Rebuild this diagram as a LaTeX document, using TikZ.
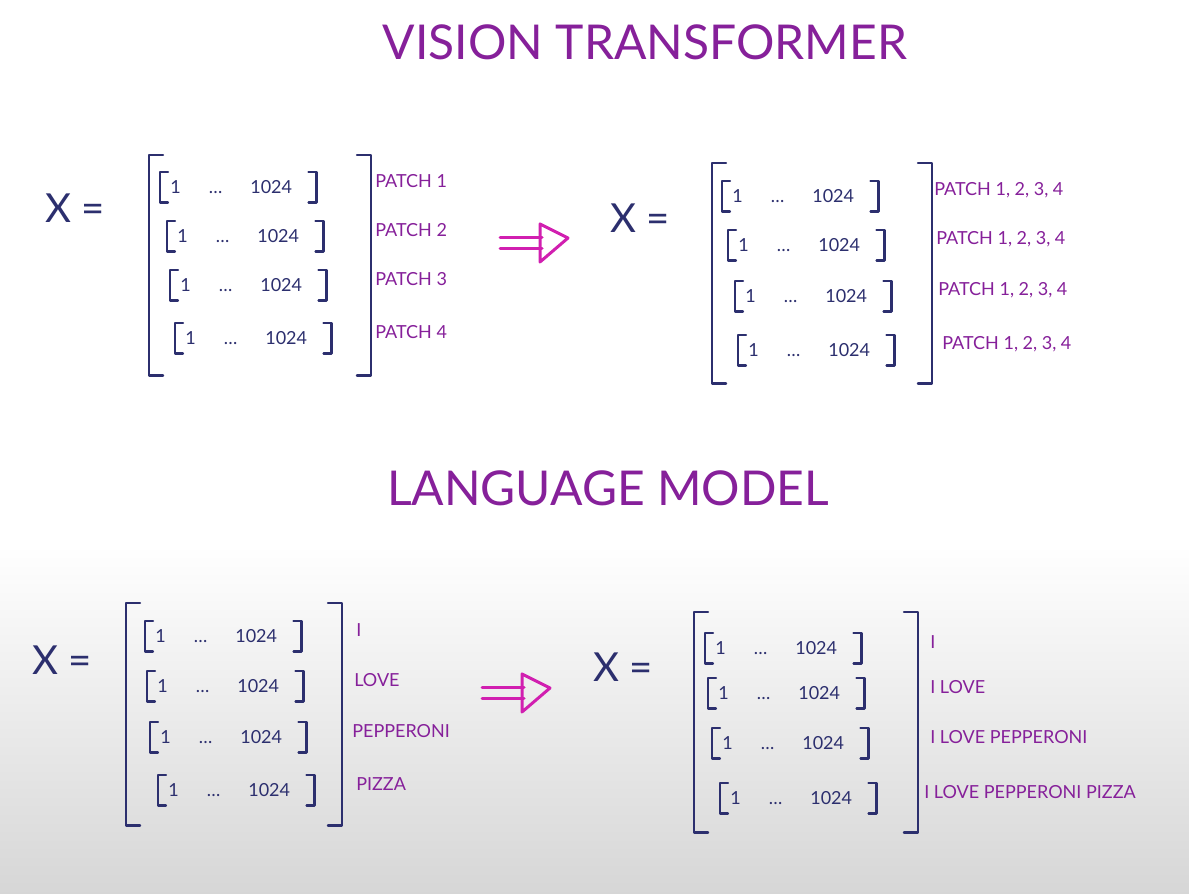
\documentclass[tikz,border=0pt]{standalone}
\usepackage{fontspec}
\setmainfont{Lato}
\usetikzlibrary{positioning}
\definecolor{inkblue}{HTML}{2C2F6E}
\definecolor{inkpurple}{HTML}{86209A}
\definecolor{inkmagenta}{HTML}{D11FB0}

\begin{document}
\begin{tikzpicture}[x=0.5pt, y=-0.5pt]
    \tikzset{
        title/.style={text=inkpurple, font=\fontsize{24}{28}\selectfont, inner sep=0pt},
        xeq/.style={text=inkblue, font=\fontsize{20}{24}\selectfont, inner sep=0pt},
        vec/.style={anchor=west, text=inkblue, font=\fontsize{9}{11}\selectfont,
        minimum height=15pt, inner xsep=5pt, inner ysep=0pt},
        bigmat/.style={minimum height=110pt, inner sep=0pt},
        lbl/.style={anchor=west, text=inkpurple, font=\fontsize{9}{11}\selectfont,
        inner sep=0pt, xshift=#1, yshift=3pt},
        lbl/.default=2pt,
        ink/.style={draw=inkblue, line width=1.1pt, line cap=round, line join=round},
        arrow/.style={draw=inkmagenta, line width=1.5pt, line cap=round, line join=round}
    }

    % whiteboard
    \fill[white] (0,0) rectangle (1189,894);
    \shade[top color=white, bottom color=black!16] (0,545) rectangle (1189,894);
    \useasboundingbox (0,0) rectangle (1189,894);

    % titles
    \node (vit) [title] at (645,42) {VISION TRANSFORMER};
    \node (lm) [title] at (608,488) {LANGUAGE MODEL};

    % X = ...
    \node (xA) [xeq] at (75,208) {X =};
    \node (xB) [xeq] at (640,218) {X =};
    \node (xC) [xeq] at (62,660) {X =};
    \node (xD) [xeq] at (623,667) {X =};

    % outer brackets
    \node (matA) [bigmat, minimum width=110.5pt] at (260,265) {};
    \node (matB) [bigmat, minimum width=109.5pt] at (822,273) {};
    \node (matC) [bigmat, minimum width=107.5pt, minimum height=111pt] at (234,714) {};
    \node (matD) [bigmat, minimum width=111.5pt] at (806,722) {};
    \foreach \n in {matA,matB,matC,matD}
        \draw[ink] ([xshift=7pt]\n.north west) -- (\n.north west) -- (\n.south west) -- ([xshift=7pt]\n.south west)
                   ([xshift=-7pt]\n.north east) -- (\n.north east) -- (\n.south east) -- ([xshift=-7pt]\n.south east);

    % row vectors
    \foreach \n/\px/\py in {a1/160/187, a2/167/236, a3/170/285, a4/175/338,
                            b1/722/196, b2/728/245, b3/735/296, b4/738/350,
                            c1/145/636, c2/147/686, c3/150/737, c4/158/790,
                            d1/705/648, d2/708/693, d3/712/743, d4/720/798}{
        \node (\n) [vec] at (\px,\py) {1\hspace{14pt}\dots\hspace{14pt}1024\kern7pt};
        \draw[ink] ([xshift=4pt]\n.north west) -- (\n.north west) -- (\n.south west) -- ([xshift=4pt]\n.south west)
                   ([xshift=-4pt]\n.north east) -- (\n.north east) -- (\n.south east) -- ([xshift=-4pt]\n.south east);
    }

    % labels
    \node (pa1) [lbl] at (matA.east |- a1) {PATCH 1};
    \node (pa2) [lbl] at (matA.east |- a2) {PATCH 2};
    \node (pa3) [lbl] at (matA.east |- a3) {PATCH 3};
    \node (pa4) [lbl] at (matA.east |- a4) {PATCH 4};
    \node (pb1) [lbl=1pt] at (matB.east |- b1) {PATCH 1, 2, 3, 4};
    \node (pb2) [lbl=2pt] at (matB.east |- b2) {PATCH 1, 2, 3, 4};
    \node (pb3) [lbl=3pt] at (matB.east |- b3) {PATCH 1, 2, 3, 4};
    \node (pb4) [lbl=5pt] at (matB.east |- b4) {PATCH 1, 2, 3, 4};
    \node (wc1) [lbl=7pt] at (matC.east |- c1) {I};
    \node (wc2) [lbl=6pt] at (matC.east |- c2) {LOVE};
    \node (wc3) [lbl=5pt] at (matC.east |- c3) {PEPPERONI};
    \node (wc4) [lbl=7pt] at (matC.east |- c4) {PIZZA};
    \node (wd1) [lbl=6pt] at (matD.east |- d1) {I};
    \node (wd2) [lbl=6pt] at (matD.east |- d2) {I LOVE};
    \node (wd3) [lbl=6pt] at (matD.east |- d3) {I LOVE PEPPERONI};
    \node (wd4) [lbl=3pt] at (matD.east |- d4) {I LOVE PEPPERONI PIZZA};

    % double arrows
    \coordinate (arrA) at (500,243);
    \coordinate (arrC) at (482,693);
    \foreach \a in {arrA,arrC}{
        \draw[arrow] ([yshift=2.8pt]\a) -- ++(21pt,0) ([yshift=-2.8pt]\a) -- ++(21pt,0);
        \draw[arrow] ([xshift=20pt,yshift=9.5pt]\a) -- ([xshift=34pt,yshift=2.5pt]\a)
                     -- ([xshift=20pt,yshift=-9.5pt]\a) -- cycle;
    }
\end{tikzpicture}
\end{document}
